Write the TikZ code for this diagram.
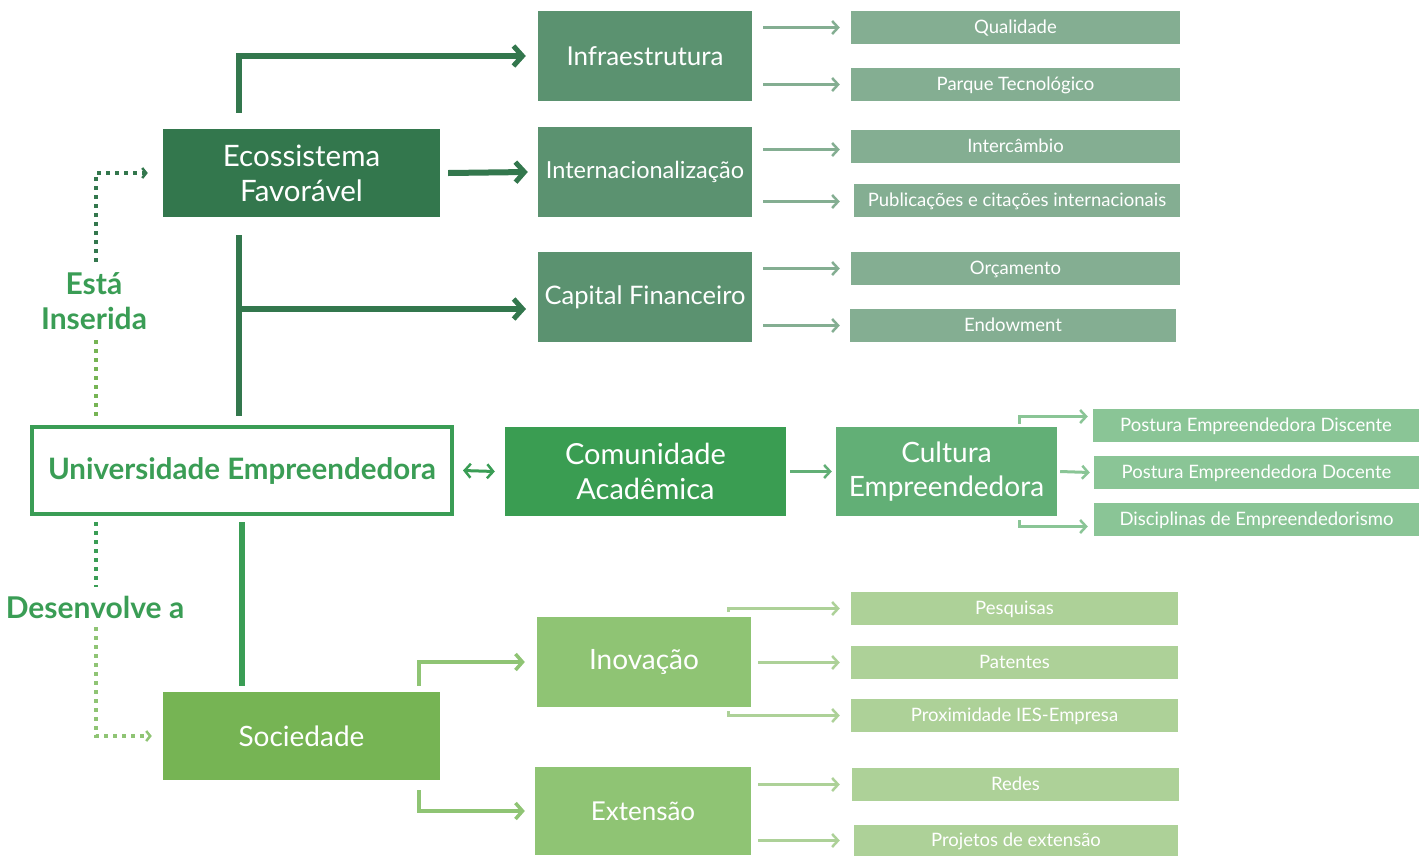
\documentclass[tikz,border=0pt]{standalone}
\usepackage{fontspec}
\setmainfont{Lato}
\usetikzlibrary{arrows.meta,calc}
\definecolor{cdark}{HTML}{33774D}
\definecolor{cinfra}{HTML}{5B9270}
\definecolor{cleaftop}{HTML}{84AE92}
\definecolor{cuni}{HTML}{3A9D55}
\definecolor{ccomun}{HTML}{3A9D52}
\definecolor{ccult}{HTML}{62AF76}
\definecolor{cleafmid}{HTML}{8AC596}
\definecolor{csoc}{HTML}{76B454}
\definecolor{cinov}{HTML}{8FC474}
\definecolor{cleafbot}{HTML}{ADD198}
\tikzset{
  bigbox/.style={rectangle,inner sep=0pt,text=white,align=center,font=\fontsize{26}{34}\selectfont},
  leafbox/.style={rectangle,inner sep=0pt,text=white,align=center,font=\fontsize{18.5}{22}\selectfont,minimum height=33pt,text height=12.5pt,text depth=1.5pt},
  lbl/.style={text=cuni,align=center,font=\fontsize{30}{35}\selectfont\bfseries},
  thickarr/.style={line width=6pt,-{Straight Barb[length=9pt,width=20pt,line width=5pt]}},
  thinarr/.style={line width=3pt,-{Straight Barb[length=6pt,width=13pt,line width=2.5pt]}},
  medarr/.style={line width=4pt,-{Straight Barb[length=7pt,width=16pt,line width=3.5pt]}},
  dotline/.style={line width=4pt,dash pattern=on 4pt off 5pt},
  dotarr/.style={dotline,-{Straight Barb[length=4pt,width=10pt,line width=2.5pt]}},
}
\begin{document}
\begin{tikzpicture}[x=1pt,y=-1pt]
\useasboundingbox (0,0) rectangle (1419,855);
% main boxes
\node[bigbox,fill=cinfra,minimum width=214pt,minimum height=90pt] (infra) at (645,56) {Infraestrutura};
\node[bigbox,fill=cinfra,minimum width=214pt,minimum height=90pt,font=\fontsize{23.5}{30}\selectfont] (intern) at (645,172) {Internacionalização};
\node[bigbox,fill=cinfra,minimum width=214pt,minimum height=90pt,font=\fontsize{25.5}{30}\selectfont] (cap) at (645,297) {Capital Financeiro};
\node[bigbox,fill=cdark,minimum width=277pt,minimum height=88pt,font=\fontsize{29.5}{35}\selectfont] (eco) at (301.5,173) {Ecossistema\\Favorável};
\node[rectangle,draw=cuni,line width=4pt,minimum width=420pt,minimum height=87pt,text=cuni,font=\fontsize{29.5}{34}\selectfont\bfseries,text height=20pt,text depth=2pt] (uni) at (242,470.5) {Universidade Empreendedora};
\node[bigbox,fill=ccomun,minimum width=281pt,minimum height=89pt,font=\fontsize{29}{35}\selectfont] (comun) at (645.5,471.5) {Comunidade\\Acadêmica};
\node[bigbox,fill=ccult,minimum width=221pt,minimum height=89pt,font=\fontsize{28}{34}\selectfont] (cult) at (946.5,471.5) {Cultura\\Empreendedora};
\node[bigbox,fill=csoc,minimum width=277pt,minimum height=88pt,font=\fontsize{28}{34}\selectfont] (soc) at (301.5,736) {Sociedade};
\node[bigbox,fill=cinov,minimum width=214pt,minimum height=90pt,font=\fontsize{28}{34}\selectfont] (inov) at (644,662) {Inovação};
\node[bigbox,fill=cinov,minimum width=216pt,minimum height=88pt] (ext) at (643,811) {Extensão};
% leaves top
\node[leafbox,fill=cleaftop,minimum width=329pt] (q) at (1015.5,27.5) {Qualidade};
\node[leafbox,fill=cleaftop,minimum width=329pt] (pq) at (1015.5,84.5) {Parque Tecnológico};
\node[leafbox,fill=cleaftop,minimum width=329pt] (ic) at (1015.5,146.5) {Intercâmbio};
\node[leafbox,fill=cleaftop,minimum width=326pt] (pub) at (1017,200.5) {Publicações e citações internacionais};
\node[leafbox,fill=cleaftop,minimum width=329pt] (orc) at (1015.5,268.5) {Orçamento};
\node[leafbox,fill=cleaftop,minimum width=326pt] (end) at (1013,325.5) {Endowment};
% leaves mid
\node[leafbox,fill=cleafmid,minimum width=326pt] (pd) at (1256,425.5) {Postura Empreendedora Discente};
\node[leafbox,fill=cleafmid,minimum width=325pt] (pdo) at (1256.5,472.5) {Postura Empreendedora Docente};
\node[leafbox,fill=cleafmid,minimum width=325pt] (dis) at (1256.5,519.5) {Disciplinas de Empreendedorismo};
% leaves bottom
\node[leafbox,fill=cleafbot,minimum width=327pt] (pes) at (1014.5,608.5) {Pesquisas};
\node[leafbox,fill=cleafbot,minimum width=327pt] (pat) at (1014.5,662.5) {Patentes};
\node[leafbox,fill=cleafbot,minimum width=327pt] (prox) at (1014.5,715.5) {Proximidade IES-Empresa};
\node[leafbox,fill=cleafbot,minimum width=327pt] (red) at (1015.5,784.5) {Redes};
\node[leafbox,fill=cleafbot,minimum width=324pt,minimum height=31pt] (proj) at (1016,840.5) {Projetos de extensão};
% labels
\node[lbl] (esta) at (94,301) {Está\\Inserida};
\node[lbl] (desen) at (95,607) {Desenvolve a};
% dark connectors
\draw[cdark,thickarr] ([xshift=76pt,yshift=16pt]eco.north west) |- ([xshift=-12pt]infra.west);
\draw[cdark,thickarr] ([xshift=8pt]eco.east) -- ([xshift=-10pt]intern.west);
\coordinate (va) at (239,235);
\coordinate (vb) at (239,416);
\coordinate (ct) at (526,309);
\draw[cdark,line width=6pt] (va) -- (vb);
\draw[cdark,thickarr] (va |- ct) -- (ct);
% uni connectors
\draw[cuni,line width=3pt,{Straight Barb[length=6pt,width=14pt,line width=2.5pt]}-{Straight Barb[length=6pt,width=14pt,line width=2.5pt]}] ([xshift=9pt]uni.east) -- ([xshift=-10pt]comun.west);
\coordinate (s1) at (242,686);
\draw[cuni,line width=6pt] ([yshift=-6pt]uni.south) -- (s1);
% dotted
\coordinate (d1) at (96,262);
\coordinate (d2) at (96,340);
\coordinate (d3) at (96,416);
\coordinate (d4) at (96,522);
\coordinate (d5) at (96,587);
\coordinate (d6) at (96,627);
\draw[cdark,dotarr] (d1) |- ([xshift=-15pt]eco.west);
\draw[csoc,dotline] (d2) -- (d3);
\draw[cuni,dotline] (d4) -- (d5);
\draw[cinov,dotarr] (d6) |- ([xshift=-11pt]soc.west);
% comun -> cult
\draw[ccult,thinarr] ([xshift=4pt]comun.east) -- ([xshift=-4pt]cult.west);
% cult -> leaves
\draw[cleafmid,thinarr] ([xshift=-38pt,yshift=3pt]cult.north east) |- ([xshift=-5pt,yshift=9pt]pd.west);
\draw[cleafmid,thinarr] ([xshift=3pt]cult.east) -- ([xshift=-4pt]pdo.west);
\draw[cleafmid,thinarr] ([xshift=-38pt,yshift=-4pt]cult.south east) |- ([xshift=-6pt,yshift=-7pt]dis.west);
% top leaves
\draw[cleaftop,thinarr] ($(infra.east |- q.west)+(11,0)$) -- ($(q.west)+(-11,0)$);
\draw[cleaftop,thinarr] ($(infra.east |- pq.west)+(11,0)$) -- ($(pq.west)+(-11,0)$);
\draw[cleaftop,thinarr] ($(intern.east |- ic.west)+(11,3)$) -- ($(ic.west)+(-11,3)$);
\draw[cleaftop,thinarr] ($(intern.east |- pub.west)+(11,1)$) -- ($(pub.west)+(-14,1)$);
\draw[cleaftop,thinarr] ($(cap.east |- orc.west)+(11,0)$) -- ($(orc.west)+(-11,0)$);
\draw[cleaftop,thinarr] ($(cap.east |- end.west)+(11,0)$) -- ($(end.west)+(-10,0)$);
% soc -> inov/ext
\draw[cinov,medarr] ([xshift=-21pt,yshift=6pt]soc.north east) |- ([xshift=-12pt]inov.west);
\draw[cinov,medarr] ([xshift=-21pt,yshift=-10pt]soc.south east) |- ([xshift=-10pt]ext.west);
% bottom leaves
\draw[cleafbot,thinarr] ([xshift=-23pt,yshift=5pt]inov.north east) |- ($(pes.west)+(-11,0)$);
\draw[cleafbot,thinarr] ($(inov.east |- pat.west)+(7,0)$) -- ($(pat.west)+(-11,0)$);
\draw[cleafbot,thinarr] ([xshift=-23pt,yshift=-4pt]inov.south east) |- ($(prox.west)+(-11,0)$);
\draw[cleafbot,thinarr] ($(ext.east |- red.west)+(7,0)$) -- ($(red.west)+(-12,0)$);
\draw[cleafbot,thinarr] ($(ext.east |- proj.west)+(7,0)$) -- ($(proj.west)+(-14,0)$);
\end{tikzpicture}
\end{document}
